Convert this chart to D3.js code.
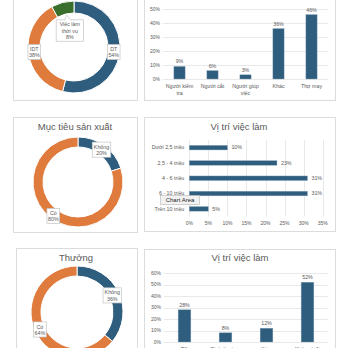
<!DOCTYPE html>
<html>
<head>
<meta charset="utf-8">
<script src="https://cdn.jsdelivr.net/npm/d3@7"></script>
<style>
  body { margin:0; background:#fff; }
  svg { display:block; font-family:"Liberation Sans", Arial, sans-serif; }
</style>
</head>
<body>
<svg id="chart" width="348" height="348"></svg>
<script>
// ---- data ----
var jobTypeCats = ["DT", "IDT", "Việc làm|thời vụ"];
var jobTypeVals = [54, 38, 8];

var roleCats = ["Người kiểm|tra", "Người cắt", "Người giúp|việc", "Khác", "Thợ may"];
var roleVals = [9, 6, 3, 36, 46];
var roleTicks = [0, 10, 20, 30, 40, 50];

var goalTitle = "Mục tiêu sản xuất";
var goalCats = ["Không", "Có"];
var goalVals = [20, 80];

var incomeTitle = "Vị trí việc làm";
var incomeCats = ["Dưới 2,5 triệu", "2,5 - 4 triệu", "4 - 6 triệu", "6 - 10 triệu", "Trên 10 triệu"];
var incomeVals = [10, 23, 31, 31, 5];
var incomeTicks = [0, 5, 10, 15, 20, 25, 30, 35];

var bonusTitle = "Thưởng";
var bonusCats = ["Không", "Có"];
var bonusVals = [36, 64];

var pos2Title = "Vị trí việc làm";
var pos2Cats = ["Tốt", "Bình thường", "Kém", "Không biết"];
var pos2Vals = [28, 8, 12, 52];
var pos2Ticks = [0, 10, 20, 30, 40, 50, 60];

var BLUE = "#2e5d7e", ORANGE = "#de7b3d", GREEN = "#3a6e2c";
var TXT = "#595959", GRID = "#e3e3e3";

var svg = d3.select("#chart");

function box(x0, y0, x1, y1){
    svg.append("rect")
        .attr("x", x0 + 0.5).attr("y", y0 + 0.5)
        .attr("width", x1 - x0).attr("height", y1 - y0)
        .attr("fill", "#fff").attr("stroke", "#dcdcdc");
}

function title(txt, cx, y){
    svg.append("text").attr("x", cx).attr("y", y)
        .attr("text-anchor", "middle").attr("font-size", 9.5)
        .attr("fill", TXT).text(txt);
}

// label box with several lines, centred on (cx, cy)
function labelBox(lines, cx, cy){
    var lh = 6.3, fs = 5.3;
    var w = d3.max(lines, function(l){ return l.length; }) * 2.9 + 4;
    var h = lines.length * lh + 2.5;
    var g = svg.append("g");
    g.append("rect").attr("x", cx - w/2).attr("y", cy - h/2)
        .attr("width", w).attr("height", h)
        .attr("fill", "#fff").attr("stroke", "#c4c4c4").attr("stroke-width", 0.7);
    lines.forEach(function(l, i){
        g.append("text").attr("x", cx)
            .attr("y", cy - h/2 + 1.6 + lh*(i+1) - 1.3)
            .attr("text-anchor", "middle").attr("font-size", fs)
            .attr("fill", TXT).text(l);
    });
    return {w: w, h: h};
}

function donut(cats, vals, colors, cx, cy, rOut, rIn, labelR){
    var pie = d3.pie().sort(null).value(function(d){ return d; });
    var arcs = pie(vals);
    var arc = d3.arc().innerRadius(rIn).outerRadius(rOut);
    var g = svg.append("g").attr("transform", "translate(" + cx + "," + cy + ")");
    g.selectAll("path").data(arcs).enter().append("path")
        .attr("d", arc)
        .attr("fill", function(d, i){ return colors[i]; })
        .attr("stroke", "#fff").attr("stroke-width", 1);
    arcs.forEach(function(a, i){
        var ang = (a.startAngle + a.endAngle) / 2;
        var lr = labelR[i];
        var lx = cx + lr * Math.sin(ang), ly = cy - lr * Math.cos(ang);
        var lines = cats[i].split("|").concat([vals[i] + "%"]);
        var bx = labelBox(lines, lx, ly);
        if (lr < rIn) {
            // callout pointer to the slice
            var px = cx + rIn * Math.sin(ang), py = cy - rIn * Math.cos(ang) + 4;
            var top = ly - bx.h/2;
            svg.append("path")
                .attr("d", "M" + (lx - 5) + "," + (top + 0.3) + "L" + (px + 1) + "," + (py - 3) + "L" + (lx + 1) + "," + (top + 0.3))
                .attr("fill", "#fff").attr("stroke", "#c4c4c4").attr("stroke-width", 0.7);
            svg.append("line").attr("x1", lx - 4.6).attr("x2", lx + 0.6)
                .attr("y1", top + 0.4).attr("y2", top + 0.4)
                .attr("stroke", "#fff").attr("stroke-width", 1);
        }
    });
}

function vbars(cats, vals, ticks, x0, x1, y0, y1, pad, labelY){
    var x = d3.scaleBand().domain(cats).range([x0, x1]).paddingInner(pad).paddingOuter(pad/2);
    var y = d3.scaleLinear().domain([0, d3.max(ticks)]).range([y1, y0]);
    var g = svg.append("g");
    ticks.forEach(function(t){
        g.append("line").attr("x1", x0).attr("x2", x1)
            .attr("y1", Math.round(y(t)) + 0.5).attr("y2", Math.round(y(t)) + 0.5)
            .attr("stroke", GRID).attr("stroke-width", 0.8);
        g.append("text").attr("x", x0 - 3).attr("y", y(t) + 1.8)
            .attr("text-anchor", "end").attr("font-size", 5).attr("fill", TXT).text(t + "%");
    });
    g.selectAll("rect.bar").data(vals).enter().append("rect")
        .attr("x", function(d, i){ return x(cats[i]); })
        .attr("y", function(d){ return y(d); })
        .attr("width", x.bandwidth())
        .attr("height", function(d){ return y(0) - y(d); })
        .attr("fill", BLUE).attr("stroke", "#8ea9bd").attr("stroke-width", 0.4);
    vals.forEach(function(v, i){
        var cxm = x(cats[i]) + x.bandwidth()/2;
        g.append("text").attr("x", cxm).attr("y", y(v) - 3)
            .attr("text-anchor", "middle").attr("font-size", 5.3).attr("fill", TXT).text(v + "%");
        cats[i].split("|").forEach(function(l, k){
            g.append("text").attr("x", cxm).attr("y", labelY + k * 6.8)
                .attr("text-anchor", "middle").attr("font-size", 5.3).attr("fill", TXT).text(l);
        });
    });
}

function hbars(cats, vals, ticks, x0, x1, y0, y1, pad){
    var x = d3.scaleLinear().domain([0, d3.max(ticks)]).range([x0, x1]);
    var y = d3.scaleBand().domain(cats).range([y0, y1]).paddingInner(pad).paddingOuter(pad/2);
    var g = svg.append("g");
    ticks.forEach(function(t){
        g.append("line").attr("x1", Math.round(x(t)) + 0.5).attr("x2", Math.round(x(t)) + 0.5)
            .attr("y1", y0).attr("y2", y1)
            .attr("stroke", GRID).attr("stroke-width", 0.8);
        g.append("text").attr("x", x(t)).attr("y", y1 + 8.5)
            .attr("text-anchor", "middle").attr("font-size", 5).attr("fill", TXT).text(t + "%");
    });
    g.selectAll("rect.bar").data(vals).enter().append("rect")
        .attr("x", x(0))
        .attr("y", function(d, i){ return y(cats[i]); })
        .attr("width", function(d){ return x(d) - x(0); })
        .attr("height", y.bandwidth())
        .attr("fill", BLUE).attr("stroke", "#8ea9bd").attr("stroke-width", 0.4);
    vals.forEach(function(v, i){
        var cym = y(cats[i]) + y.bandwidth()/2;
        g.append("text").attr("x", x(v) + 4).attr("y", cym + 1.8)
            .attr("font-size", 5.3).attr("fill", TXT).text(v + "%");
        g.append("text").attr("x", x0 - 5).attr("y", cym + 1.8)
            .attr("text-anchor", "end").attr("font-size", 5.3).attr("fill", TXT).text(cats[i]);
    });
}

// ---- boxes ----
box(13, -5, 137, 100);
box(144, -5, 335, 100);
box(13, 117, 137, 232);
box(144, 117, 335, 231);
box(16, 248, 137, 360);
box(144, 249, 335, 360);

// ---- row 1 ----
donut(jobTypeCats, jobTypeVals, [BLUE, ORANGE, GREEN], 74, 47, 46, 34, [40, 40, 17]);
vbars(roleCats, roleVals, roleTicks, 163, 328, 9, 79, 0.66, 88);

// ---- row 2 ----
title(goalTitle, 75, 130);
donut(goalCats, goalVals, [BLUE, ORANGE], 78, 182, 45, 35, [40, 42]);
title(incomeTitle, 239, 130);
hbars(incomeCats, incomeVals, incomeTicks, 189.3, 322.7, 140, 216.5, 0.7);

// Excel hover tooltip
svg.append("rect").attr("x", 160.5).attr("y", 195.5).attr("width", 39).attr("height", 9)
    .attr("fill", "#f2f2f2").attr("stroke", "#b5b5b5").attr("stroke-width", 0.6);
svg.append("text").attr("x", 180).attr("y", 202.3).attr("text-anchor", "middle")
    .attr("font-size", 6).attr("fill", "#222").text("Chart Area");

// ---- row 3 ----
title(bonusTitle, 76, 261);
donut(bonusCats, bonusVals, [BLUE, ORANGE], 77, 312, 46, 36, [39, 41]);
title(pos2Title, 240, 261);
vbars(pos2Cats, pos2Vals, pos2Ticks, 164, 328, 273, 342, 0.69, 351);
</script>
</body>
</html>
